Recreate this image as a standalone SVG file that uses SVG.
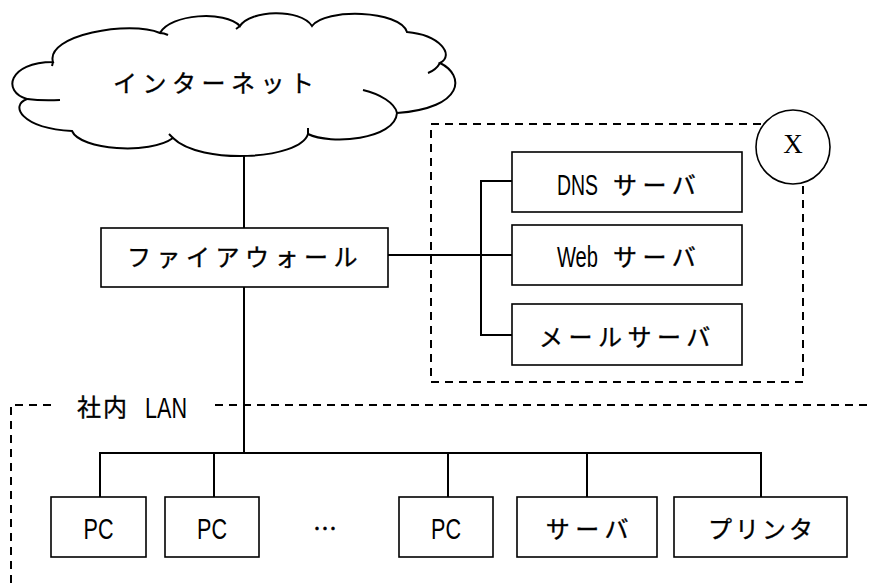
<svg xmlns="http://www.w3.org/2000/svg" width="869" height="583" viewBox="0 0 869 583">
<style>
.box{fill:#fff;stroke:#000;stroke-width:1.6}
.ln{fill:none;stroke:#000;stroke-width:2}
.dash{fill:none;stroke:#000;stroke-width:2;stroke-dasharray:8 6}
.jp{font-family:"Noto Sans CJK JP","Noto Sans CJK SC",sans-serif;font-size:24px;letter-spacing:5.5px;fill:#000;stroke:#000;stroke-width:0.35px}
.lat{font-family:"Liberation Sans",Arial,sans-serif;font-size:29px;fill:#000}
.x{font-family:"Liberation Serif","Times New Roman",serif;font-size:27px;fill:#000}
</style>
<rect width="869" height="583" fill="#fff"/>
<g id="connectors">
<path class="ln" d="M244,150 V228"/>
<path class="ln" d="M244,287 V453"/>
<path class="ln" d="M388,255 H512"/>
<path class="ln" d="M512,181 H481 V335 H512"/>
<path class="ln" d="M100,497 V453 H761 V497"/>
<path class="ln" d="M214,453 V497 M448,453 V497 M587,453 V497"/>
</g>
<g id="lan-area">
<path class="dash" d="M11,583 V405 H52"/>
<path class="dash" d="M215,405 H869"/>
<text class="jp" x="77" y="416" style="letter-spacing:2px">社内</text>
<text class="lat" x="145" y="418" textLength="42" lengthAdjust="spacingAndGlyphs">LAN</text>
</g>
<g id="internet">
<path fill="#fff" stroke="#000" stroke-width="2" d="M27,99 C2,92 8,62 53,62 C45,35 130,20 160,33 C170,14 225,10 240,26 C250,10 300,8 312,26 C325,8 400,10 407,32 C440,35 455,55 440,63 C465,75 465,108 397,113 C395,140 330,145 308,134 C300,160 200,165 173,138 C150,155 80,150 72,131 C20,128 10,105 27,99 Z"/>
<path fill="none" stroke="#000" stroke-width="2" d="M27,99 Q42,101 60,100 M440,63 Q436,70 428,73 M363,90 C380,94 395,103 397,113 M308,134 L308,128 M160,33 Q164,33 168,35 M173,138 L169,134 M240,26 L236,29 M53,62 L52,66"/>
<text class="jp" x="113" y="92">インターネット</text>
</g>
<g id="firewall">
<rect class="box" x="101" y="228" width="287" height="59"/>
<text class="jp" x="127" y="266">ファイアウォール</text>
</g>
<g id="x-zone">
<rect class="dash" x="431" y="124" width="372" height="258"/>
<circle cx="793" cy="147" r="37" fill="#fff" stroke="#000" stroke-width="1.6"/>
<text class="x" x="793" y="153" text-anchor="middle">X</text>
</g>
<g id="dns">
<rect class="box" x="512" y="152" width="230" height="60"/>
<text class="lat" x="557" y="195" textLength="41" lengthAdjust="spacingAndGlyphs">DNS</text>
<text class="jp" x="613" y="194">サーバ</text>
</g>
<g id="web">
<rect class="box" x="512" y="225" width="230" height="60"/>
<text class="lat" x="557" y="267" textLength="41" lengthAdjust="spacingAndGlyphs">Web</text>
<text class="jp" x="613" y="266">サーバ</text>
</g>
<g id="mail">
<rect class="box" x="512" y="304" width="230" height="61"/>
<text class="jp" x="539" y="346">メールサーバ</text>
</g>
<g id="pc1">
<rect class="box" x="51" y="497" width="95" height="60"/>
<text class="lat" x="98.5" y="539" text-anchor="middle" textLength="30" lengthAdjust="spacingAndGlyphs">PC</text>
</g>
<g id="pc2">
<rect class="box" x="165" y="497" width="94" height="60"/>
<text class="lat" x="212" y="539" text-anchor="middle" textLength="30" lengthAdjust="spacingAndGlyphs">PC</text>
</g>
<g id="ellipsis">
<text class="jp" x="325" y="537" text-anchor="middle" style="letter-spacing:0">…</text>
</g>
<g id="pc3">
<rect class="box" x="399" y="497" width="94" height="60"/>
<text class="lat" x="446" y="539" text-anchor="middle" textLength="30" lengthAdjust="spacingAndGlyphs">PC</text>
</g>
<g id="server">
<rect class="box" x="517" y="497" width="140" height="60"/>
<text class="jp" x="590" y="538" text-anchor="middle">サーバ</text>
</g>
<g id="printer">
<rect class="box" x="674" y="497" width="173" height="60"/>
<text class="jp" x="762" y="538" text-anchor="middle" style="letter-spacing:3px">プリンタ</text>
</g>
</svg>
